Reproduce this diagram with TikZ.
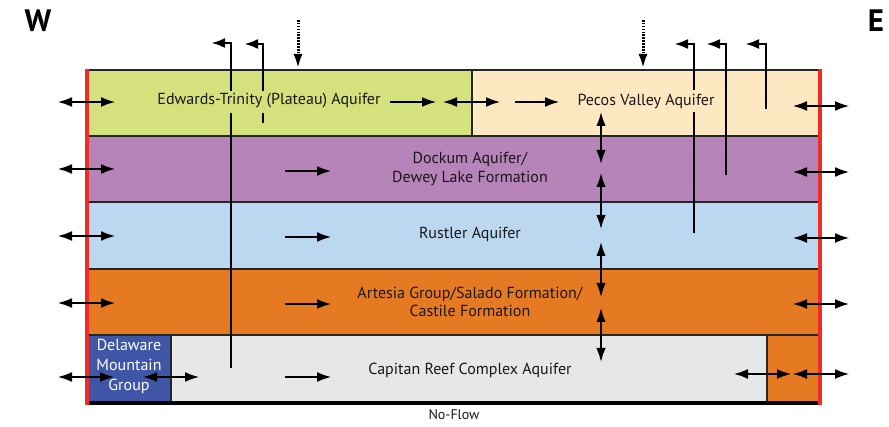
\documentclass[tikz,border=0pt]{standalone}
\usepackage{fontspec}
\setmainfont{PT Sans}
\usetikzlibrary{arrows.meta}
\definecolor{edw}{HTML}{D5E17C}
\definecolor{pec}{HTML}{FDE8C2}
\definecolor{dok}{HTML}{B784BA}
\definecolor{rus}{HTML}{BCD8F1}
\definecolor{art}{HTML}{E67A23}
\definecolor{capc}{HTML}{E6E7E8}
\definecolor{delc}{HTML}{3F55A5}
\definecolor{redb}{HTML}{EE2E24}
\definecolor{txt}{HTML}{1A1718}
\tikzset{
  layer/.style={draw=black!85, line width=1.5pt},
  tip/.tip={Latex[length=15pt,width=10pt]},
  flow/.style={line width=2.9pt, -tip},
  dflow/.style={line width=2.9pt, tip-tip},
  vflow/.style={line width=2.9pt, {Latex[length=15pt,width=9.5pt]}-{Latex[length=15pt,width=9.5pt]}},
  well/.style={line width=2.8pt, line join=miter},
  wellarrow/.style={well, -{Latex[length=14pt,width=10pt]}},
  recharge/.style={line width=3pt, dash pattern=on 1.6pt off 1.3pt, -{Latex[length=15pt,width=9pt]}},
  lbl/.style={font=\fontsize{16}{18.3}\selectfont, align=center, text=txt, inner sep=0pt},
  dir/.style={font=\bfseries\fontsize{31}{33}\selectfont, text=black, inner sep=0pt}
}
\begin{document}
\begin{tikzpicture}[x=1pt,y=-1pt]
\useasboundingbox (0,0) rectangle (889,427);
% layers
\filldraw[layer, fill=edw] (87,70) rectangle (472,136);
\filldraw[layer, fill=pec] (472,70) rectangle (819,136);
\filldraw[layer, fill=dok] (87,136) rectangle (819,202);
\filldraw[layer, fill=rus] (87,202) rectangle (819,269);
\filldraw[layer, fill=art] (87,269) rectangle (819,335);
\filldraw[layer, fill=delc] (87,335) rectangle (171,402);
\filldraw[layer, fill=capc] (171,335) rectangle (767,402);
\filldraw[layer, fill=art] (767,335) rectangle (819,402);
% boundaries
\draw[line width=4pt] (87,403.5) -- (819,403.5);
\draw[redb, line width=4pt] (86.5,69) -- (86.5,405.5);
\draw[redb, line width=4pt] (819.5,69) -- (819.5,405.5);
% labels
\node[dir] (W) at (38,21) {W};
\node[dir] (E) at (876,21) {E};
\node[lbl] (edwt) at (269,101) {Edwards-Trinity (Plateau) Aquifer};
\node[lbl] (pect) at (646,101) {Pecos Valley Aquifer};
\node[lbl] (dokt) at (470,169) {Dockum Aquifer/\\Dewey Lake Formation};
\node[lbl] (rust) at (470,234) {Rustler Aquifer};
\node[lbl] (artt) at (470,302) {Artesia Group/Salado Formation/\\Castile Formation};
\node[lbl] (capt) at (470,370) {Capitan Reef Complex Aquifer};
\node[lbl, text=white, font=\fontsize{16}{20}\selectfont] (delt) at (129,366) {Delaware\\Mountain\\Group};
\node[lbl, font=\fontsize{14}{16}\selectfont] (nof) at (454,415) {No-Flow};
% recharge
\draw[recharge] (298,20) -- (298,69);
\draw[recharge] (643,20) -- (643,69);
% wells
\draw[well] (231,368) -- (231,113);
\draw[wellarrow] (231,91) -- (231,43) -- (211,43);
\draw[wellarrow] (263,91) -- (263,44) -- (244,44);
\draw[well] (263,113) -- (263,123);
\draw[well] (694,233) -- (694,112);
\draw[wellarrow] (694,90) -- (694,44) -- (674,44);
\draw[wellarrow] (726,175) -- (726,44) -- (706,44);
\draw[wellarrow] (766,109) -- (766,44) -- (745,44);
% left boundary flows
\draw[dflow] (57,102) -- (116,102);
\draw[dflow] (57,169) -- (116,169);
\draw[dflow] (57,236) -- (116,236);
\draw[dflow] (57,303) -- (116,303);
\draw[dflow] (57,377) -- (115,377);
\draw[dflow] (142,377) -- (200,377);
% right boundary flows
\draw[dflow] (792,106) -- (850,106);
\draw[dflow] (792,172) -- (850,172);
\draw[dflow] (792,238) -- (850,238);
\draw[dflow] (792,304) -- (850,304);
\draw[dflow] (733,374) -- (792,374);
\draw[dflow] (792,374) -- (850,374);
% internal flows
\draw[flow] (390,102) -- (437,102);
\draw[dflow] (442,102) -- (501,102);
\draw[flow] (515,102) -- (560,102);
\draw[flow] (285,171) -- (332,171);
\draw[flow] (285,237) -- (332,237);
\draw[flow] (285,304) -- (332,304);
\draw[flow] (285,377) -- (332,377);
% vertical leakage
\draw[vflow] (601,111) -- (601,165);
\draw[vflow] (601,172) -- (601,230);
\draw[vflow] (601,241) -- (601,298);
\draw[vflow] (601,307) -- (601,363);
\end{tikzpicture}
\end{document}
